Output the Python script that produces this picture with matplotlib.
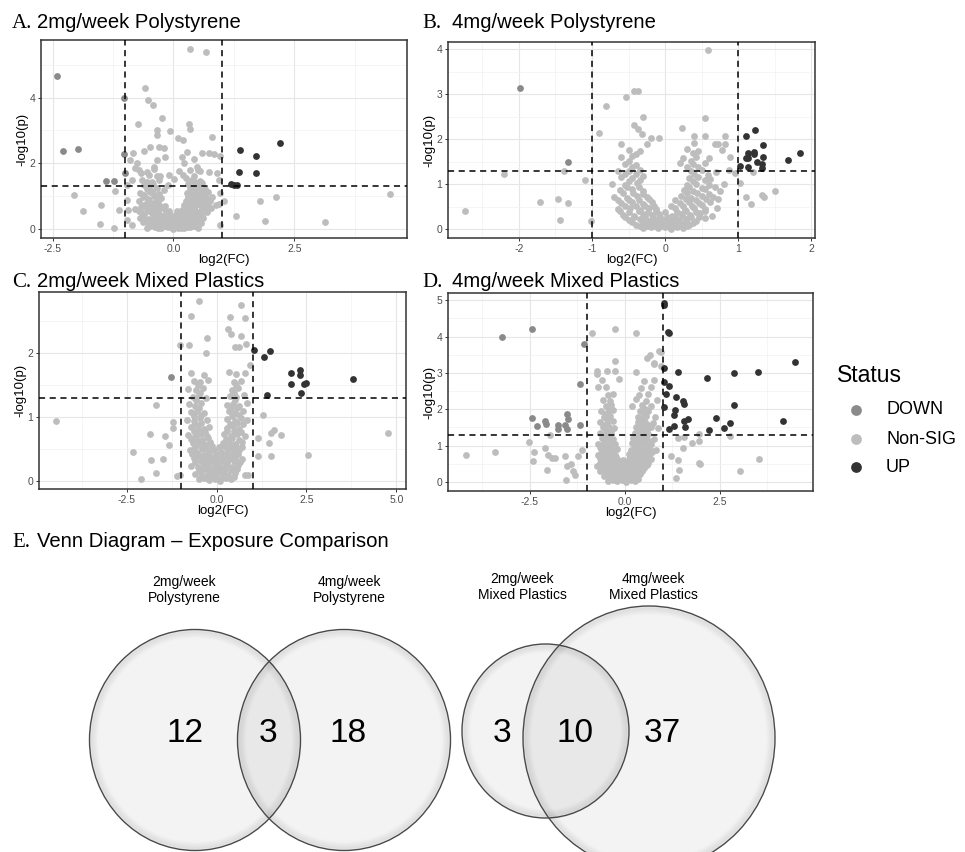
import numpy as np
import matplotlib
matplotlib.use("Agg")
import matplotlib.pyplot as plt
from matplotlib.patches import Ellipse

SANS = ["Liberation Sans", "DejaVu Sans"]
SERIF = ["Liberation Serif", "DejaVu Serif"]
plt.rcParams["font.family"] = SANS

# ---- thresholds -------------------------------------------------------------
FC_CUT = 1.0
P_CUT = 0.05

NS_COLOR = "#bdbdbd"
DOWN_COLOR = "#8a8a8a"
UP_COLOR = "#333333"

# ---- A. 2mg/week Polystyrene -----------------------------------------------
a_down = [(-2.40, 4.66), (-2.29, 2.38), (-1.98, 2.44), (-1.40, 1.46), (-1.23, 1.46),
          (-1.03, 4.00), (-1.03, 2.28), (-1.00, 1.70)]
a_up = [(1.38, 2.41), (1.35, 1.75), (1.71, 2.21), (1.71, 1.72), (2.21, 2.63),
        (1.20, 1.37), (1.26, 1.35), (1.32, 1.33)]
a_ns = [
    (0.35, 5.48), (0.67, 5.38), (-0.58, 4.29), (-0.53, 3.94), (-0.42, 3.76), (-0.24, 3.39),
    (0.33, 3.20), (0.34, 3.05), (-0.73, 3.20), (-0.35, 3.01), (-0.34, 2.86), (-0.08, 2.99),
    (0.80, 2.81), (0.10, 2.78), (0.19, 2.71), (-0.61, 2.38), (-0.48, 2.50), (-0.30, 2.50),
    (-0.20, 2.47), (-2.05, 1.03), (-1.87, 0.56), (-1.51, 0.15), (-1.49, 0.72), (-1.23, 0.03),
    (-1.13, 0.58), (-1.21, 1.16), (1.78, 0.86), (2.13, 0.98), (1.90, 0.26), (3.14, 0.23),
    (4.47, 1.07), (1.30, 0.41), (0.97, 1.09), (1.05, 0.87), (0.94, 0.77), (0.97, 0.13),
    (0.59, 2.30), (0.73, 2.30), (0.83, 2.28), (0.97, 2.22), (0.42, 2.12), (0.49, 1.90),
    (0.90, 1.70), (0.94, 1.50), (0.73, 1.75), (0.54, 1.77), (0.21, 2.00), (0.18, 2.20),
    (0.28, 2.35), (-0.89, 2.10), (-0.79, 1.85), (-0.68, 1.70), (-0.85, 1.50), (-0.96, 1.34),
    (-0.83, 2.30), (-0.75, 2.00), (-0.54, 1.75), (-0.41, 1.90), (-0.34, 2.10), (-0.17, 2.20),
    (-0.44, 1.44), (-0.27, 1.60), (-0.10, 1.65), (-0.96, 0.89), (-0.94, 0.59), (-0.97, 0.28),
    (-0.85, 0.13),
    (-0.55, 0.03), (-0.38, 0.06), (-0.25, 0.02), (-0.12, 0.05), (0.0, 0.01), (0.1, 0.04),
    (0.22, 0.02), (0.35, 0.07), (0.5, 0.03), (-0.45, 0.13), (-0.3, 0.10), (-0.18, 0.15),
    (-0.06, 0.11), (0.05, 0.14), (0.16, 0.09), (0.28, 0.13), (0.42, 0.16), (-0.62, 0.22),
    (-0.4, 0.25), (-0.22, 0.2), (-0.1, 0.24), (0.02, 0.21), (0.13, 0.26), (0.26, 0.22),
    (0.4, 0.27), (0.56, 0.2), (-0.7, 0.35), (-0.5, 0.32), (-0.33, 0.38), (-0.18, 0.34),
    (-0.05, 0.37), (0.08, 0.32), (0.2, 0.36), (0.33, 0.33), (0.48, 0.38), (0.62, 0.34),
    (-0.65, 0.48), (-0.45, 0.5), (-0.3, 0.46), (-0.15, 0.51), (0.12, 0.47), (0.25, 0.5),
    (0.38, 0.45), (0.52, 0.49), (0.7, 0.52), (-0.8, 0.6), (-0.55, 0.62), (-0.38, 0.58),
    (-0.22, 0.63), (0.18, 0.59), (0.32, 0.62), (0.45, 0.57), (0.6, 0.61), (0.78, 0.64),
    (-0.6, 0.72), (-0.42, 0.75), (-0.28, 0.7), (0.22, 0.74), (0.36, 0.71), (0.5, 0.76),
    (0.66, 0.7), (0.88, 0.73), (-0.72, 0.85), (-0.5, 0.88), (-0.33, 0.83), (0.25, 0.86),
    (0.42, 0.82), (0.55, 0.88), (0.75, 0.84), (-0.62, 0.98), (-0.4, 1.0), (-0.25, 0.95),
    (0.3, 0.99), (0.45, 0.96), (0.62, 1.01), (0.8, 0.97), (-0.7, 1.1), (-0.48, 1.12),
    (-0.3, 1.08), (0.28, 1.11), (0.4, 1.14), (0.58, 1.09), (0.72, 1.12), (-0.55, 1.22),
    (-0.35, 1.25), (-0.2, 1.2), (0.35, 1.23), (0.5, 1.26), (0.65, 1.21), (-0.6, 1.35),
    (-0.42, 1.38), (-0.12, 1.33), (0.3, 1.36), (0.45, 1.34), (0.6, 1.39), (-0.65, 1.5),
    (-0.3, 1.48), (0.02, 1.52), (0.38, 1.5), (0.55, 1.47), (-0.5, 1.65), (-0.35, 1.62),
    (0.2, 1.66), (0.42, 1.63), (-0.72, 1.8), (-0.4, 1.82), (0.12, 1.78), (0.35, 1.81),
    (0.5, 1.79),
    (-0.48, 0.08), (-0.32, 0.04), (-0.18, 0.08), (-0.05, 0.07), (0.06, 0.06), (0.16, 0.02),
    (0.28, 0.06), (0.43, 0.09), (-0.52, 0.18), (-0.35, 0.17), (-0.15, 0.19), (-0.02, 0.17),
    (0.09, 0.18), (0.21, 0.17), (0.34, 0.19), (0.48, 0.22), (-0.58, 0.29), (-0.42, 0.3),
    (-0.28, 0.28), (-0.12, 0.29), (0.0, 0.3), (0.14, 0.29), (0.28, 0.3), (0.42, 0.31),
    (0.55, 0.28), (-0.6, 0.42), (-0.4, 0.43), (-0.24, 0.41), (-0.08, 0.44), (0.05, 0.42),
    (0.18, 0.42), (0.32, 0.41), (0.45, 0.43), (0.58, 0.41), (-0.72, 0.55), (-0.5, 0.56),
    (-0.32, 0.53), (-0.1, 0.56), (0.08, 0.55), (0.26, 0.55), (0.4, 0.52), (0.56, 0.54),
    (0.68, 0.57), (-0.68, 0.67), (-0.48, 0.68), (-0.34, 0.66), (-0.18, 0.69), (0.28, 0.67),
    (0.42, 0.68), (0.58, 0.66), (0.72, 0.69), (-0.55, 0.8), (-0.4, 0.79), (0.3, 0.8),
    (0.48, 0.78), (0.64, 0.8), (-0.52, 0.93), (-0.35, 0.92), (0.38, 0.92), (0.55, 0.93),
    (0.7, 0.91), (-0.6, 1.04), (-0.38, 1.05), (0.36, 1.04), (0.5, 1.03), (0.66, 1.05),
    (-0.45, 1.17), (0.45, 1.19), (0.6, 1.16), (-0.5, 1.3), (0.52, 1.31), (-0.55, 1.44),
    (0.45, 1.43), (0.25, 1.55),
]

# ---- B. 4mg/week Polystyrene -----------------------------------------------
b_down = [(-1.99, 3.14), (-1.33, 1.48)]
b_up = [(1.11, 2.06), (1.23, 2.20), (1.14, 1.68), (1.21, 1.72), (1.22, 1.66), (1.10, 1.59),
        (1.14, 1.57), (1.26, 1.50), (1.13, 1.38), (1.34, 1.86), (1.34, 1.61), (1.32, 1.44),
        (1.32, 1.35), (1.68, 1.53), (1.84, 1.70), (1.03, 1.40)]
b_ns = [
    (-2.74, 0.39), (-2.20, 1.22), (-1.71, 0.60), (-1.46, 0.67), (-1.44, 0.21), (-1.33, 0.57),
    (-1.38, 1.30), (-1.09, 1.09), (-1.01, 0.17), (-0.91, 2.14), (-0.81, 2.73), (-0.54, 2.93),
    (-0.43, 3.08), (-0.37, 3.06), (-0.30, 2.49), (-0.43, 2.31), (-0.37, 2.23), (-0.32, 2.12),
    (-0.19, 2.03), (-0.08, 2.03), (0.58, 3.98), (0.55, 2.48), (0.23, 2.25), (0.39, 2.08),
    (0.54, 2.08), (0.82, 2.08), (0.68, 1.90), (0.82, 1.90), (0.89, 1.61), (0.87, 1.31),
    (0.95, 1.25), (1.03, 1.03), (1.10, 0.71), (1.18, 0.56), (1.32, 0.76), (1.35, 0.72),
    (1.50, 0.85), (1.20, 1.27), (0.73, 0.66), (0.71, 0.46), (0.64, 0.28), (0.55, 0.24),
    (-0.3, 0.03), (-0.2, 0.05), (-0.1, 0.02), (0.0, 0.04), (0.08, 0.01), (0.16, 0.05),
    (0.25, 0.03), (-0.4, 0.1), (-0.25, 0.12), (-0.14, 0.09), (-0.04, 0.11), (0.05, 0.13),
    (0.14, 0.08), (0.24, 0.12), (0.33, 0.1), (-0.5, 0.2), (-0.35, 0.22), (-0.22, 0.18),
    (-0.12, 0.21), (-0.02, 0.19), (0.08, 0.23), (0.18, 0.2), (0.3, 0.22), (0.42, 0.18),
    (-0.58, 0.32), (-0.42, 0.3), (-0.3, 0.34), (-0.18, 0.31), (-0.08, 0.33), (0.1, 0.3),
    (0.22, 0.34), (0.34, 0.31), (0.48, 0.35), (-0.65, 0.45), (-0.48, 0.47), (-0.35, 0.43),
    (-0.22, 0.46), (-0.12, 0.44), (0.14, 0.47), (0.27, 0.43), (0.4, 0.46), (0.55, 0.44),
    (-0.6, 0.58), (-0.45, 0.6), (-0.3, 0.56), (-0.18, 0.59), (0.2, 0.57), (0.32, 0.61),
    (0.46, 0.58), (0.62, 0.6), (-0.7, 0.72), (-0.52, 0.7), (-0.38, 0.74), (-0.25, 0.71),
    (0.22, 0.73), (0.35, 0.7), (0.5, 0.74), (0.66, 0.71), (-0.62, 0.86), (-0.46, 0.88),
    (-0.3, 0.84), (0.26, 0.87), (0.38, 0.85), (0.55, 0.88), (0.75, 0.84), (-0.72, 1.0),
    (-0.55, 0.98), (-0.38, 1.02), (0.3, 0.99), (0.42, 1.01), (0.6, 0.97), (0.8, 1.0),
    (-0.6, 1.15), (-0.45, 1.13), (-0.3, 1.17), (0.32, 1.14), (0.45, 1.16), (0.62, 1.12),
    (-0.65, 1.3), (-0.5, 1.28), (-0.35, 1.32), (0.35, 1.29), (0.5, 1.31), (0.7, 1.27),
    (-0.55, 1.45), (-0.4, 1.43), (0.2, 1.47), (0.38, 1.44), (0.55, 1.46), (-0.6, 1.6),
    (-0.45, 1.62), (0.25, 1.58), (0.42, 1.61), (0.6, 1.59), (-0.5, 1.75), (-0.35, 1.73),
    (0.3, 1.77), (0.45, 1.74), (0.78, 1.76), (-0.6, 1.9), (-0.25, 1.88), (0.4, 1.92),
    (0.72, 1.89),
    (-0.35, 0.06), (-0.25, 0.07), (-0.15, 0.06), (-0.05, 0.07), (0.04, 0.07), (0.12, 0.06),
    (0.2, 0.08), (0.3, 0.06), (-0.45, 0.15), (-0.3, 0.16), (-0.19, 0.15), (-0.09, 0.16),
    (0.0, 0.16), (0.1, 0.15), (0.19, 0.16), (0.28, 0.16), (0.38, 0.14), (-0.55, 0.26),
    (-0.42, 0.26), (-0.28, 0.27), (-0.17, 0.26), (-0.07, 0.27), (0.03, 0.26), (0.13, 0.27),
    (0.24, 0.26), (0.36, 0.27), (0.47, 0.26), (-0.62, 0.39), (-0.5, 0.38), (-0.36, 0.39),
    (-0.24, 0.38), (-0.13, 0.39), (0.0, 0.38), (0.16, 0.38), (0.28, 0.39), (0.42, 0.38),
    (0.54, 0.4), (-0.55, 0.52), (-0.4, 0.51), (-0.27, 0.52), (-0.15, 0.52), (0.08, 0.52),
    (0.24, 0.52), (0.37, 0.51), (0.5, 0.53), (-0.65, 0.65), (-0.5, 0.65), (-0.36, 0.64),
    (-0.22, 0.66), (0.14, 0.65), (0.28, 0.66), (0.42, 0.64), (0.56, 0.66), (-0.58, 0.79),
    (-0.44, 0.8), (-0.3, 0.78), (0.3, 0.79), (0.44, 0.8), (0.6, 0.78), (-0.52, 0.93),
    (-0.36, 0.94), (0.32, 0.93), (0.5, 0.92), (0.68, 0.94), (-0.5, 1.07), (-0.35, 1.09),
    (0.38, 1.07), (0.55, 1.08), (-0.55, 1.22), (-0.4, 1.23), (0.4, 1.22), (0.58, 1.21),
    (-0.45, 1.37), (0.3, 1.37), (0.45, 1.38), (-0.5, 1.52), (0.35, 1.52), (-0.4, 1.67),
    (0.38, 1.68),
]

# ---- C. 2mg/week Mixed Plastics --------------------------------------------
c_down = [(-1.28, 1.62)]
c_up = [(1.05, 2.04), (1.50, 2.03), (1.31, 1.93), (2.06, 1.69), (2.06, 1.51), (2.33, 1.73),
        (2.33, 1.66), (2.42, 1.52), (2.50, 1.53), (2.36, 1.38), (1.39, 1.34), (3.80, 1.60)]
c_ns = [
    (-4.47, 0.94), (-2.33, 0.45), (-2.11, 0.04), (-1.82, 0.33), (-1.69, 0.13), (-1.85, 0.73),
    (-1.69, 1.19), (-1.48, 0.34), (-1.43, 0.71), (-1.31, 0.57), (-1.22, 0.83), (-1.20, 0.93),
    (-0.48, 2.81), (-0.71, 2.58), (-0.28, 2.23), (-1.01, 2.12), (-0.76, 2.13), (-0.30, 2.00),
    (0.37, 2.56), (0.69, 2.75), (0.79, 2.54), (0.32, 2.38), (0.41, 2.30), (0.69, 2.27),
    (0.51, 2.10), (0.63, 2.09), (0.81, 2.14), (0.94, 1.81), (1.60, 0.80), (1.51, 0.75),
    (1.78, 0.72), (1.47, 0.59), (1.51, 0.40), (1.16, 0.67), (1.16, 0.39), (1.30, 1.03),
    (2.55, 0.41), (4.78, 0.76), (0.88, 0.10), (0.79, 0.10), (-1.01, 0.10), (-1.10, 0.09),
    (-0.5, 0.03), (-0.35, 0.05), (-0.2, 0.02), (-0.05, 0.04), (0.1, 0.01), (0.25, 0.05),
    (0.4, 0.03), (-0.6, 0.12), (-0.42, 0.14), (-0.28, 0.1), (-0.12, 0.13), (0.02, 0.11),
    (0.17, 0.14), (0.32, 0.1), (0.5, 0.13), (-0.7, 0.24), (-0.52, 0.22), (-0.36, 0.26),
    (-0.2, 0.23), (-0.05, 0.25), (0.1, 0.22), (0.25, 0.26), (0.42, 0.23), (0.6, 0.25),
    (-0.62, 0.36), (-0.45, 0.38), (-0.3, 0.34), (-0.14, 0.37), (0.05, 0.35), (0.2, 0.38),
    (0.35, 0.34), (0.52, 0.37), (0.7, 0.35), (-0.75, 0.48), (-0.56, 0.46), (-0.4, 0.5),
    (-0.24, 0.47), (-0.08, 0.49), (0.12, 0.46), (0.28, 0.5), (0.45, 0.47), (0.62, 0.49),
    (-0.66, 0.6), (-0.5, 0.62), (-0.34, 0.58), (-0.18, 0.61), (0.18, 0.59), (0.34, 0.62),
    (0.5, 0.58), (0.7, 0.61), (-0.8, 0.72), (-0.6, 0.7), (-0.44, 0.74), (-0.28, 0.71),
    (0.22, 0.73), (0.4, 0.7), (0.56, 0.74), (0.78, 0.71), (-0.7, 0.84), (-0.52, 0.86),
    (-0.36, 0.82), (-0.2, 0.85), (0.28, 0.83), (0.45, 0.86), (0.62, 0.82), (-0.82, 0.96),
    (-0.62, 0.94), (-0.45, 0.98), (-0.28, 0.95), (0.3, 0.97), (0.5, 0.94), (0.68, 0.98),
    (0.86, 0.95), (-0.7, 1.08), (-0.54, 1.1), (-0.36, 1.06), (0.35, 1.09), (0.52, 1.07),
    (0.74, 1.1), (-0.78, 1.2), (-0.6, 1.18), (-0.42, 1.22), (0.3, 1.19), (0.46, 1.21),
    (0.62, 1.18), (0.84, 1.22), (-0.66, 1.32), (-0.5, 1.34), (-0.3, 1.3), (0.38, 1.33),
    (0.55, 1.31), (0.75, 1.34), (-0.8, 1.44), (-0.56, 1.42), (-0.38, 1.46), (0.42, 1.43),
    (0.6, 1.45), (-0.62, 1.56), (-0.45, 1.54), (-0.25, 1.58), (0.48, 1.55), (0.68, 1.57),
    (-0.7, 1.68), (-0.35, 1.66), (0.35, 1.7), (0.55, 1.67), (0.8, 1.69),
    (-0.42, 0.07), (-0.28, 0.06), (-0.12, 0.08), (0.02, 0.06), (0.18, 0.07), (0.32, 0.08),
    (0.48, 0.06), (-0.5, 0.18), (-0.35, 0.19), (-0.2, 0.17), (-0.05, 0.19), (0.1, 0.18),
    (0.24, 0.19), (0.4, 0.17), (0.56, 0.19), (-0.6, 0.3), (-0.44, 0.31), (-0.28, 0.29),
    (-0.12, 0.31), (0.02, 0.3), (0.16, 0.31), (0.3, 0.29), (0.48, 0.31), (0.64, 0.3),
    (-0.68, 0.42), (-0.52, 0.43), (-0.36, 0.41), (-0.2, 0.43), (-0.02, 0.42), (0.14, 0.42),
    (0.3, 0.43), (0.44, 0.41), (0.6, 0.43), (-0.6, 0.54), (-0.44, 0.55), (-0.3, 0.53),
    (-0.12, 0.55), (0.06, 0.54), (0.22, 0.55), (0.38, 0.53), (0.55, 0.55), (0.72, 0.54),
    (-0.72, 0.66), (-0.56, 0.67), (-0.4, 0.65), (-0.24, 0.67), (0.26, 0.66), (0.42, 0.67),
    (0.62, 0.65), (-0.64, 0.78), (-0.48, 0.79), (-0.32, 0.77), (0.3, 0.78), (0.48, 0.79),
    (0.68, 0.77), (-0.6, 0.9), (-0.42, 0.91), (0.36, 0.9), (0.56, 0.91), (0.74, 0.89),
    (-0.62, 1.02), (-0.44, 1.03), (0.42, 1.02), (0.62, 1.03), (-0.5, 1.14), (0.4, 1.14),
    (0.58, 1.15), (-0.58, 1.26), (0.5, 1.26), (-0.45, 1.38), (0.48, 1.38), (-0.52, 1.5),
    (0.55, 1.5),
]

# ---- D. 4mg/week Mixed Plastics --------------------------------------------
d_down = [(-3.23, 3.98), (-2.43, 4.21), (-2.43, 1.77), (-2.32, 1.54), (-2.09, 1.68),
          (-2.07, 1.60), (-1.76, 1.58), (-1.76, 1.47), (-1.52, 1.88), (-1.50, 1.74),
          (-1.57, 1.56), (-1.52, 1.47), (-1.17, 1.58), (-1.06, 3.80), (-1.17, 2.69)]
d_up = [(1.04, 4.93), (1.03, 4.86), (1.13, 4.14), (1.17, 4.09), (1.03, 3.14), (1.39, 3.03),
        (1.04, 2.74), (1.17, 2.63), (1.09, 2.42), (1.35, 2.33), (1.52, 2.24), (1.57, 2.15),
        (1.32, 1.99), (1.30, 1.83), (1.04, 2.06), (1.15, 1.47), (1.30, 1.54), (1.57, 1.69),
        (1.65, 1.74), (1.58, 1.52), (2.17, 2.87), (2.39, 1.77), (2.22, 1.42), (2.61, 1.49),
        (2.77, 1.62), (2.86, 2.12), (2.87, 2.99), (3.50, 3.03), (4.16, 1.68), (4.48, 3.31)]
d_ns = [
    (-4.17, 0.74), (-3.42, 0.82), (-2.52, 1.10), (-2.39, 0.83), (-2.42, 0.58), (-2.09, 0.92),
    (-2.02, 0.74), (-2.04, 0.32), (-1.96, 1.29), (-1.91, 0.65), (-1.83, 0.67), (-1.57, 0.72),
    (-1.52, 0.43), (-1.41, 0.50), (-1.55, 0.06), (-1.35, 0.29), (-1.32, 0.18), (-1.24, 0.70),
    (-1.13, 0.88), (-0.87, 4.09), (-0.26, 4.21), (-0.26, 3.32), (0.30, 4.11), (-0.72, 2.96),
    (-0.74, 3.05), (-0.48, 3.05), (-0.26, 3.05), (0.30, 3.03), (0.58, 3.41), (0.65, 3.48),
    (0.78, 3.28), (0.91, 3.60), (0.96, 3.57), (0.77, 3.24), (0.95, 3.19), (1.39, 1.22),
    (1.55, 1.24), (1.96, 1.33), (1.78, 1.06), (1.96, 1.12), (1.52, 0.92), (1.39, 0.61),
    (1.43, 0.34), (1.35, 0.11), (1.96, 0.53), (1.97, 0.49), (2.78, 1.27), (3.03, 0.29),
    (3.52, 0.63), (1.22, 0.70),
    (-0.45, 0.03), (-0.32, 0.05), (-0.2, 0.02), (-0.08, 0.04), (0.04, 0.01), (0.16, 0.05),
    (0.28, 0.03), (-0.55, 0.15), (-0.4, 0.17), (-0.27, 0.13), (-0.14, 0.16), (-0.02, 0.14),
    (0.1, 0.17), (0.22, 0.13), (0.36, 0.15), (-0.65, 0.3), (-0.5, 0.28), (-0.36, 0.32),
    (-0.22, 0.29), (-0.1, 0.31), (0.03, 0.28), (0.16, 0.32), (0.3, 0.29), (0.45, 0.31),
    (-0.72, 0.45), (-0.56, 0.47), (-0.42, 0.43), (-0.28, 0.46), (-0.14, 0.44), (0.0, 0.47),
    (0.14, 0.43), (0.28, 0.46), (0.42, 0.44), (0.58, 0.47), (-0.6, 0.6), (-0.46, 0.62),
    (-0.32, 0.58), (-0.18, 0.61), (-0.04, 0.59), (0.12, 0.62), (0.26, 0.58), (0.4, 0.61),
    (0.55, 0.59), (0.7, 0.62), (-0.7, 0.75), (-0.54, 0.73), (-0.4, 0.77), (-0.26, 0.74),
    (0.12, 0.76), (0.28, 0.73), (0.44, 0.77), (0.6, 0.74), (-0.62, 0.9), (-0.48, 0.92),
    (-0.34, 0.88), (-0.2, 0.91), (0.16, 0.89), (0.32, 0.92), (0.48, 0.88), (0.66, 0.91),
    (0.82, 0.89), (-0.7, 1.05), (-0.55, 1.03), (-0.4, 1.07), (-0.26, 1.04), (0.18, 1.06),
    (0.36, 1.03), (0.52, 1.07), (0.7, 1.04), (-0.6, 1.2), (-0.46, 1.22), (-0.32, 1.18),
    (0.22, 1.21), (0.4, 1.19), (0.56, 1.22), (0.78, 1.18), (-0.66, 1.35), (-0.5, 1.33),
    (-0.36, 1.37), (0.26, 1.34), (0.44, 1.36), (0.62, 1.33), (-0.58, 1.5), (-0.42, 1.52),
    (-0.28, 1.48), (0.3, 1.51), (0.48, 1.49), (0.7, 1.52), (0.88, 1.48), (-0.64, 1.65),
    (-0.46, 1.63), (-0.32, 1.67), (0.34, 1.64), (0.52, 1.66), (0.74, 1.63), (-0.55, 1.8),
    (-0.4, 1.82), (0.36, 1.78), (0.56, 1.81), (0.8, 1.79), (-0.62, 1.95), (-0.44, 1.93),
    (-0.3, 1.97), (0.4, 1.94), (0.62, 1.96), (-0.5, 2.1), (-0.36, 2.12), (0.2, 2.08),
    (0.45, 2.11), (0.7, 2.09), (-0.58, 2.25), (-0.4, 2.23), (0.3, 2.27), (0.55, 2.24),
    (0.85, 2.26), (-0.45, 2.4), (-0.3, 2.42), (0.38, 2.38), (0.62, 2.41), (-0.7, 2.6),
    (-0.5, 2.62), (0.42, 2.58), (0.7, 2.61), (-0.6, 2.8), (-0.15, 2.82), (0.5, 2.78),
    (0.78, 2.81),
    (-0.38, 0.08), (-0.26, 0.09), (-0.14, 0.08), (-0.02, 0.09), (0.1, 0.08), (0.22, 0.09),
    (0.34, 0.08), (-0.48, 0.22), (-0.34, 0.23), (-0.2, 0.22), (-0.08, 0.23), (0.04, 0.22),
    (0.16, 0.23), (0.28, 0.22), (0.4, 0.23), (-0.58, 0.37), (-0.43, 0.38), (-0.3, 0.37),
    (-0.16, 0.38), (-0.04, 0.37), (0.08, 0.38), (0.22, 0.37), (0.36, 0.38), (0.5, 0.37),
    (-0.64, 0.52), (-0.5, 0.53), (-0.36, 0.52), (-0.22, 0.53), (-0.08, 0.52), (0.06, 0.53),
    (0.2, 0.52), (0.34, 0.53), (0.48, 0.52), (0.62, 0.53), (-0.66, 0.67), (-0.52, 0.68),
    (-0.38, 0.67), (-0.24, 0.68), (0.18, 0.67), (0.33, 0.68), (0.48, 0.67), (0.64, 0.68),
    (-0.6, 0.82), (-0.46, 0.83), (-0.32, 0.82), (0.22, 0.82), (0.38, 0.83), (0.54, 0.82),
    (0.72, 0.83), (-0.66, 0.97), (-0.52, 0.98), (-0.38, 0.97), (0.26, 0.97), (0.42, 0.98),
    (0.6, 0.97), (-0.54, 1.12), (-0.4, 1.13), (0.3, 1.12), (0.46, 1.13), (0.64, 1.12),
    (-0.56, 1.27), (-0.42, 1.28), (0.34, 1.27), (0.52, 1.28), (-0.5, 1.42), (-0.36, 1.43),
    (0.38, 1.42), (0.58, 1.43), (-0.52, 1.58), (0.42, 1.58), (0.62, 1.57), (-0.48, 1.73),
    (0.46, 1.72), (-0.5, 1.88), (0.5, 1.87), (-0.42, 2.03), (0.52, 2.02),
]

# ---- E. Venn counts ---------------------------------------------------------
ps_labels = ["2mg/week\nPolystyrene", "4mg/week\nPolystyrene"]
ps_counts = [12, 3, 18]          # only 2mg, shared, only 4mg
mp_labels = ["2mg/week\nMixed Plastics", "4mg/week\nMixed Plastics"]
mp_counts = [3, 10, 37]

STATUS = ["DOWN", "Non-SIG", "UP"]
STATUS_COLORS = [DOWN_COLOR, NS_COLOR, UP_COLOR]

W, H = 965, 852


def px_box(left, top, right, bottom):
    """Axes rectangle from pixel edges (origin top-left)."""
    return [left / W, 1 - bottom / H, (right - left) / W, (bottom - top) / H]


def volcano(ax, ns, down, up, xlim, ylim, xmaj, xmin, ymaj, ymin, xfmt):
    ax.set_facecolor("white")
    for pts, col in ((ns, NS_COLOR), (down, DOWN_COLOR), (up, UP_COLOR)):
        xs, ys = zip(*pts)
        ax.scatter(xs, ys, s=24, c=col, linewidths=0, zorder=3)
    dash = dict(color="black", linestyle=(0, (4, 3)), linewidth=1.1, zorder=4)
    ax.axvline(-FC_CUT, **dash)
    ax.axvline(FC_CUT, **dash)
    ax.axhline(-np.log10(P_CUT), **dash)
    ax.set_xlim(*xlim)
    ax.set_ylim(*ylim)
    ax.set_xticks(xmaj)
    ax.set_xticklabels([xfmt.format(v) for v in xmaj])
    ax.set_xticks(xmin, minor=True)
    ax.set_yticks(ymaj)
    ax.set_yticklabels([str(int(v)) for v in ymaj])
    ax.set_yticks(ymin, minor=True)
    ax.grid(True, which="major", color="#e6e6e6", linewidth=0.8, zorder=0)
    ax.grid(True, which="minor", color="#f2f2f2", linewidth=0.5, zorder=0)
    ax.set_axisbelow(True)
    ax.tick_params(which="major", length=2.5, width=0.7, color="#333333",
                   labelsize=7.5, labelcolor="#4d4d4d", pad=1.5)
    ax.tick_params(which="minor", length=0)
    for sp in ax.spines.values():
        sp.set_color("#333333")
        sp.set_linewidth(1.1)
    ax.set_xlabel("log2(FC)", fontsize=9.5, labelpad=0.5)
    ax.set_ylabel("-log10(p)", fontsize=9.5, labelpad=1)


fig = plt.figure(figsize=(W / 100, H / 100), dpi=100)

ax_a = fig.add_axes(px_box(41, 40, 407, 238))
volcano(ax_a, a_ns, a_down, a_up, (-2.74, 4.83), (-0.27, 5.75),
        [-2.5, 0, 2.5], [-1.25, 1.25, 3.75], [0, 2, 4], [1, 3, 5], "{:.1f}")

ax_b = fig.add_axes(px_box(448, 42, 815, 238))
volcano(ax_b, b_ns, b_down, b_up, (-2.97, 2.05), (-0.2, 4.16),
        [-2, -1, 0, 1, 2], [-2.5, -1.5, -0.5, 0.5, 1.5], [0, 1, 2, 3, 4],
        [0.5, 1.5, 2.5, 3.5], "{:.0f}")

ax_c = fig.add_axes(px_box(39, 292, 406, 489))
volcano(ax_c, c_ns, c_down, c_up, (-4.94, 5.27), (-0.12, 2.95),
        [-2.5, 0, 2.5, 5.0], [-3.75, -1.25, 1.25, 3.75], [0, 1, 2],
        [0.5, 1.5, 2.5], "{:.1f}")

ax_d = fig.add_axes(px_box(448, 293, 813, 491))
volcano(ax_d, d_ns, d_down, d_up, (-4.65, 4.95), (-0.25, 5.2),
        [-2.5, 0, 2.5], [-3.75, -1.25, 1.25, 3.75], [0, 1, 2, 3, 4, 5],
        [0.5, 1.5, 2.5, 3.5, 4.5], "{:.1f}")

# overlay in pixel coordinates for titles, legend and the Venn diagrams
ov = fig.add_axes([0, 0, 1, 1], zorder=-1)
ov.set_xlim(0, W)
ov.set_ylim(H, 0)
ov.axis("off")
ov.set_facecolor("none")

titles = [("A.", "2mg/week Polystyrene", 12, 37, 28),
          ("B.", "4mg/week Polystyrene", 422, 452, 28),
          ("C.", "2mg/week Mixed Plastics", 12, 37, 287),
          ("D.", "4mg/week Mixed Plastics", 422, 452, 287),
          ("E.", "Venn Diagram \u2013 Exposure Comparison", 12, 37, 547)]
for tag, text, xt, xs, yb in titles:
    ov.text(xt, yb, tag, family=SERIF, fontsize=15, va="baseline", ha="left")
    ov.text(xs, yb, text, fontsize=14.6, va="baseline", ha="left")

# legend
ov.text(837, 382, "Status", fontsize=16.5, va="baseline", ha="left")
for lab, col, yy in zip(STATUS, STATUS_COLORS, (410, 439, 467)):
    ov.scatter([856], [yy], s=60, c=col, linewidths=0)
    ov.text(886, yy, lab, fontsize=13, va="center", ha="left")


def venn_circle(cx, cy, w, h):
    ov.add_patch(Ellipse((cx, cy), w, h, facecolor="#3b3b3b", alpha=0.06,
                         edgecolor="none"))
    # soft inner shading along the rim
    for k in range(1, 6):
        ov.add_patch(Ellipse((cx, cy), w - 3 * k, h - 3 * k, fill=False,
                             edgecolor="#000000", alpha=0.045 * (6 - k) / 5,
                             linewidth=2.2))
    ov.add_patch(Ellipse((cx, cy), w, h, fill=False, edgecolor="#4a4a4a",
                         linewidth=1.0))


venn_circle(195, 740, 211, 221)
venn_circle(344, 740, 213, 221)
venn_circle(545.5, 731, 167, 174)
venn_circle(649, 738, 252, 264)

for lab, xx in zip(ps_labels + mp_labels, (184, 349, 522, 653)):
    ov.text(xx, 590 if "Poly" in lab else 587, lab, fontsize=10, ha="center",
            va="center", linespacing=1.15)

for cnt, xx in zip(ps_counts + mp_counts, (185, 268, 348, 502, 575, 662)):
    ov.text(xx, 733, str(cnt), fontsize=24, ha="center", va="center")

fig.savefig("out.png", dpi=100)
